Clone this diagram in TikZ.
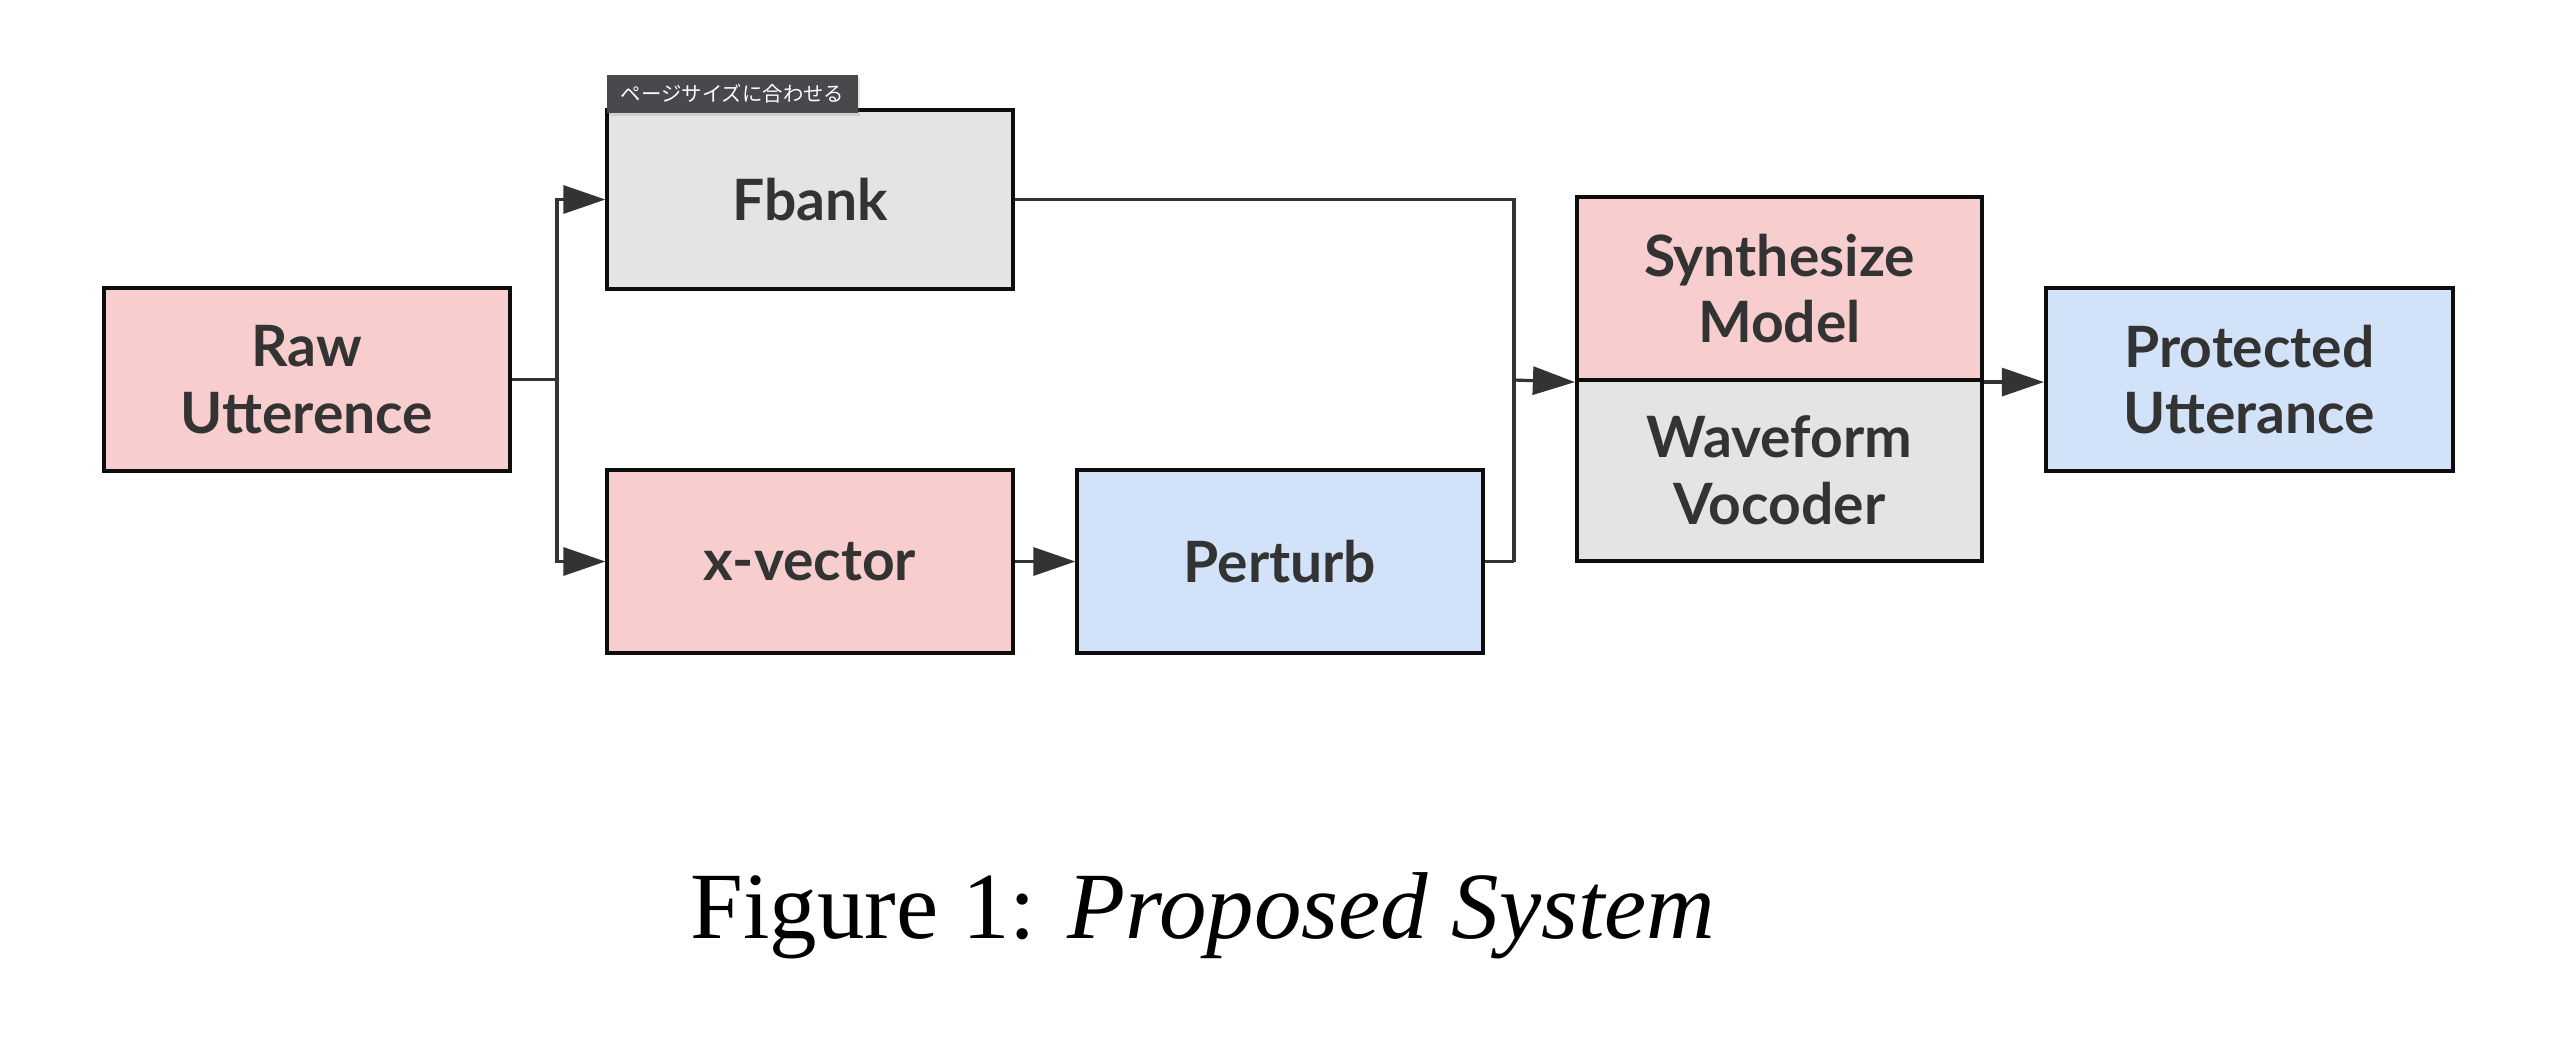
\documentclass[tikz,border=0pt]{standalone}
\usepackage{fontspec}
\setmainfont{Liberation Serif}
\newfontfamily\boxfont{Lato}
\newfontfamily\cjkfont{Noto Sans CJK JP}
\usetikzlibrary{arrows.meta,positioning,shadows}
\definecolor{pinkfill}{HTML}{F7CDCD}
\definecolor{grayfill}{HTML}{E4E4E4}
\definecolor{bluefill}{HTML}{D2E3F9}
\definecolor{txtgray}{HTML}{333333}
\definecolor{linegray}{HTML}{333333}
\definecolor{tagfill}{HTML}{48484D}
\begin{document}
\begin{tikzpicture}[x=0.01cm,y=-0.01cm,
  blockbox/.style={draw=black!95, line width=0.04cm, minimum width=4.05cm, minimum height=1.82cm,
    inner sep=0pt, align=center, text=txtgray, font=\boxfont\fontsize{16.2}{19}\selectfont\bfseries},
  conn/.style={draw=linegray, line width=0.032cm},
  arr/.style={conn, -{Triangle[length=0.42cm,width=0.28cm]}},
]
\useasboundingbox (0,0) rectangle (2558,1038);

\node[blockbox, fill=pinkfill, minimum width=4.06cm, minimum height=1.83cm] (raw) at (307,379.5) {Raw\\Utterence};
\node[blockbox, fill=grayfill, minimum height=1.79cm] (fbank) at (810,199.5) {Fbank};
\node[blockbox, fill=pinkfill] (xvec) at (810,561.5) {x-vector};
\node[blockbox, fill=bluefill] (perturb) at (1280,561.5) {Perturb};
\node[blockbox, fill=pinkfill, minimum height=1.83cm] (synth) at (1779.5,288.5) {Synthesize\\Model};
\node[blockbox, fill=grayfill, minimum height=1.81cm] (vocoder) at (1779.5,470.5) {Waveform\\Vocoder};
\node[blockbox, fill=bluefill, minimum width=4.07cm, minimum height=1.83cm] (prot) at (2249.5,379.5) {Protected\\Utterance};

\coordinate (j1) at (557,379.5);
\coordinate (j2) at (1514,561.5);
\coordinate (j3) at (1514,380);

\draw[conn] (raw.east) -- (j1);
\draw[arr] (j1) |- (fbank.west);
\draw[arr] (j1) |- (xvec.west);
\draw[arr] (xvec.east) -- (perturb.west);
\draw[conn] (fbank.east) -| (j2);
\draw[conn] (perturb.east) -- (j2);
\draw[arr] (j3) -- (synth.south west);
\draw[arr] (synth.south east) -- (prot.west |- synth.south east);

\node[fill=tagfill, text=white, minimum height=0.38cm, minimum width=2.51cm, inner sep=0pt,
  drop shadow={opacity=0.2, shadow xshift=0.02cm, shadow yshift=-0.03cm},
  font=\cjkfont\fontsize{5.8}{7}\selectfont] (tag) at (732.5,94) {ページサイズに合わせる};

\node[anchor=base, font=\fontsize{27}{32}\selectfont] (cap) at (1203,938) {Figure 1: \textit{Proposed System}};
\end{tikzpicture}
\end{document}
